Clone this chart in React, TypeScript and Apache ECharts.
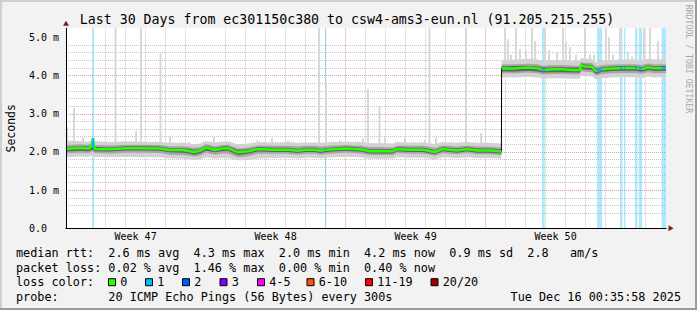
import React, { useEffect, useRef } from 'react';
import * as echarts from 'echarts';

const MONO = '"DejaVu Sans Mono", "Liberation Mono", monospace';

// ---- axes (x in days since Sun Nov 16 00:00, y in ms) ----
const X_MIN = 0.02;
const X_MAX = 30.02;
const Y_MAX = 5.24;
const dayLines = [1, 2, 3, 4, 5, 6, 8, 9, 10, 11, 12, 13, 15, 16, 17, 18, 19, 20, 22, 23, 24, 25, 26, 27, 29, 30];
const weekLines = [7, 14, 21, 28];
const weekCenters = [3.5, 10.5, 17.5, 24.5];
const weekLabels = ['Week 47', 'Week 48', 'Week 49', 'Week 50'];
const yMajor = [0, 1, 2, 3, 4, 5];
const yMinor = [0.2, 0.4, 0.6, 0.8, 1.2, 1.4, 1.6, 1.8, 2.2, 2.4, 2.6, 2.8, 3.2, 3.4, 3.6, 3.8, 4.2, 4.4, 4.6, 4.8, 5.2];

// ---- series data ----
const days = [0.02, 0.72, 1.12, 1.295, 1.37, 1.445, 2.22, 3.02, 3.87, 4.72, 5.22, 5.87, 6.22, 6.42, 6.72, 7.02, 7.47, 7.82, 8.12, 8.62, 9.12, 9.62, 10.32, 11.12, 11.62, 11.97, 12.47, 12.72, 12.97, 13.32, 13.97, 14.47, 14.72, 15.22, 15.87, 16.37, 16.57, 17.22, 17.87, 18.47, 18.87, 19.57, 20.07, 20.57, 21.22, 21.72, 21.79, 21.8, 22.47, 23.12, 23.62, 23.87, 24.32, 24.82, 25.32, 25.72, 25.77, 25.97, 26.32, 26.47, 26.57, 26.82, 27.32, 27.82, 28.12, 28.47, 28.82, 29.12, 29.47, 29.82, 30.02];
const JUMP_INDEX = 47;

const median = [2.08, 2.11, 2.09, 2.14, 2.36, 2.08, 2.07, 2.10, 2.10, 2.09, 2.05, 2.05, 2.02, 2.00, 2.03, 2.12, 2.05, 2.09, 2.10, 1.99, 2.02, 2.08, 2.06, 2.06, 2.03, 2.06, 2.06, 2.03, 2.05, 2.07, 2.09, 2.08, 2.07, 2.02, 2.02, 2.02, 2.08, 2.06, 2.06, 2.00, 2.08, 2.04, 2.08, 2.04, 2.04, 2.02, 2.02,
  4.19, 4.19, 4.21, 4.19, 4.15, 4.17, 4.17, 4.15, 4.15, 4.27, 4.24, 4.23, 4.14, 4.12, 4.17, 4.19, 4.20, 4.20, 4.20, 4.17, 4.22, 4.19, 4.20, 4.20];

const outerHi = [2.30, 2.28, 2.27, 2.30, 2.32, 2.28, 2.26, 2.28, 2.27, 2.26, 2.24, 2.24, 2.22, 2.20, 2.22, 2.29, 2.25, 2.27, 2.28, 2.20, 2.22, 2.26, 2.25, 2.26, 2.24, 2.25, 2.25, 2.24, 2.25, 2.26, 2.27, 2.26, 2.26, 2.23, 2.23, 2.22, 2.26, 2.25, 2.25, 2.21, 2.26, 2.24, 2.26, 2.24, 2.24, 2.22, 2.22,
  4.40, 4.42, 4.44, 4.42, 4.38, 4.40, 4.40, 4.39, 4.40, 4.46, 4.44, 4.43, 4.36, 4.35, 4.39, 4.41, 4.42, 4.42, 4.42, 4.40, 4.44, 4.42, 4.42, 4.42];
const outerLo = [1.86, 1.88, 1.87, 1.90, 1.92, 1.87, 1.86, 1.87, 1.86, 1.86, 1.83, 1.82, 1.80, 1.79, 1.80, 1.86, 1.82, 1.84, 1.84, 1.78, 1.79, 1.83, 1.84, 1.85, 1.83, 1.85, 1.85, 1.83, 1.84, 1.86, 1.87, 1.87, 1.86, 1.82, 1.82, 1.83, 1.86, 1.85, 1.85, 1.80, 1.86, 1.84, 1.86, 1.84, 1.84, 1.83, 1.83,
  3.96, 3.95, 3.97, 3.95, 3.92, 3.93, 3.93, 3.92, 3.92, 4.00, 3.99, 3.98, 3.91, 3.90, 3.93, 3.95, 3.96, 3.96, 3.96, 3.94, 3.98, 3.95, 3.96, 3.96];
const midHi = [2.18, 2.20, 2.19, 2.22, 2.22, 2.18, 2.17, 2.19, 2.19, 2.18, 2.15, 2.15, 2.13, 2.11, 2.13, 2.21, 2.15, 2.18, 2.19, 2.10, 2.12, 2.17, 2.16, 2.16, 2.14, 2.16, 2.16, 2.14, 2.15, 2.17, 2.18, 2.17, 2.17, 2.13, 2.13, 2.12, 2.17, 2.16, 2.16, 2.11, 2.17, 2.14, 2.17, 2.14, 2.14, 2.12, 2.12,
  4.29, 4.30, 4.31, 4.30, 4.26, 4.28, 4.28, 4.26, 4.26, 4.36, 4.34, 4.33, 4.25, 4.24, 4.28, 4.29, 4.30, 4.30, 4.30, 4.28, 4.32, 4.29, 4.30, 4.30];
const midLo = [1.96, 1.98, 1.97, 2.00, 2.02, 1.97, 1.96, 1.98, 1.98, 1.97, 1.93, 1.92, 1.90, 1.88, 1.90, 1.98, 1.93, 1.96, 1.96, 1.86, 1.89, 1.95, 1.95, 1.95, 1.93, 1.95, 1.95, 1.93, 1.94, 1.96, 1.98, 1.97, 1.96, 1.92, 1.92, 1.92, 1.97, 1.95, 1.95, 1.90, 1.97, 1.94, 1.97, 1.94, 1.94, 1.92, 1.92,
  4.06, 4.06, 4.08, 4.06, 4.03, 4.04, 4.04, 4.03, 4.03, 4.12, 4.10, 4.09, 4.02, 4.00, 4.04, 4.06, 4.07, 4.07, 4.07, 4.05, 4.09, 4.06, 4.07, 4.07];
const innerHi = [2.13, 2.15, 2.14, 2.18, 2.18, 2.13, 2.12, 2.15, 2.15, 2.14, 2.10, 2.10, 2.08, 2.06, 2.08, 2.16, 2.10, 2.14, 2.15, 2.05, 2.07, 2.13, 2.11, 2.11, 2.08, 2.11, 2.11, 2.08, 2.10, 2.12, 2.14, 2.13, 2.12, 2.07, 2.07, 2.07, 2.13, 2.11, 2.11, 2.05, 2.13, 2.09, 2.13, 2.09, 2.09, 2.07, 2.07,
  4.24, 4.25, 4.26, 4.24, 4.21, 4.22, 4.22, 4.21, 4.21, 4.32, 4.29, 4.28, 4.20, 4.18, 4.22, 4.24, 4.25, 4.25, 4.25, 4.22, 4.27, 4.24, 4.25, 4.25];
const innerLo = [2.01, 2.03, 2.02, 2.05, 2.06, 2.02, 2.01, 2.04, 2.04, 2.03, 1.99, 1.98, 1.95, 1.93, 1.96, 2.04, 1.99, 2.02, 2.03, 1.92, 1.95, 2.01, 2.00, 2.00, 1.97, 2.00, 2.00, 1.97, 1.99, 2.01, 2.03, 2.02, 2.01, 1.96, 1.96, 1.96, 2.02, 2.00, 2.00, 1.94, 2.02, 1.98, 2.02, 1.98, 1.98, 1.96, 1.96,
  4.11, 4.11, 4.13, 4.11, 4.08, 4.09, 4.09, 4.08, 4.08, 4.18, 4.16, 4.15, 4.07, 4.05, 4.10, 4.12, 4.13, 4.13, 4.13, 4.10, 4.15, 4.12, 4.13, 4.13];

// max-ping spikes: [day, from, to]
const spikes = [
  [0.07, 2.1, 2.66], [0.42, 2.1, 3.15], [0.87, 2.1, 2.38], [2.495, 2.1, 5.24], [3.52, 2.1, 2.55], [3.77, 2.1, 5.24],
  [4.745, 2.1, 4.58], [5.22, 2.1, 2.40], [6.17, 2.1, 2.27], [7.42, 2.1, 2.40], [9.595, 2.1, 2.31], [10.32, 2.1, 2.36],
  [11.12, 2.1, 2.30], [11.27, 2.1, 2.27], [12.67, 2.1, 5.24], [13.02, 2.1, 3.80], [13.72, 2.1, 2.30], [14.87, 2.1, 2.36],
  [15.12, 2.1, 3.65], [15.695, 2.1, 3.20], [15.97, 2.1, 2.38], [16.97, 2.1, 2.36], [17.97, 2.1, 2.32], [18.195, 2.1, 5.24],
  [18.52, 2.1, 2.38], [20.02, 2.1, 5.24], [20.77, 2.1, 2.49],
  [21.97, 4.2, 5.24], [22.12, 4.2, 4.95], [22.27, 4.2, 4.55], [22.52, 4.2, 5.24], [22.72, 4.2, 4.70], [23.02, 4.2, 4.65],
  [23.32, 4.2, 5.24], [23.47, 4.2, 4.90], [23.97, 4.2, 5.24], [24.17, 4.2, 4.67], [24.57, 4.2, 4.62], [24.87, 4.2, 5.24],
  [25.02, 4.2, 4.88], [25.22, 4.2, 4.75], [25.52, 4.2, 4.55], [25.97, 4.2, 5.24], [26.22, 4.2, 4.55], [26.42, 4.2, 4.55],
  [27.02, 4.2, 5.24], [27.17, 4.2, 5.00], [27.37, 4.2, 4.55], [27.72, 4.2, 5.24], [28.12, 4.2, 4.62], [28.32, 4.2, 4.50],
  [28.92, 4.2, 5.24], [29.22, 4.2, 5.24], [29.62, 4.2, 4.90], [29.97, 4.2, 4.52],
];

// loss background periods (1/20 lost): [fromDay, toDay]
const lossBars = [
  [1.32, 1.42], [12.97, 13.03], [23.82, 23.95], [26.57, 26.82], [27.72, 27.84], [27.92, 27.99],
  [28.47, 28.59], [28.66, 28.82], [29.80, 30.02],
];

const LOSS_COLORS = ['#26ff00', '#00b8ff', '#0059ff', '#7e00ff', '#ff00ff', '#ff5500', '#ff0000', '#a10000'];
const LOSS_LABELS = ['0', '1', '2', '3', '4-5', '6-10', '11-19', '20/20'];

const TITLE = 'Last 30 Days from ec301150c380 to csw4-ams3-eun.nl (91.205.215.255)';
const LEGEND_ROWS = [
  'median rtt:  2.6 ms avg  4.3 ms max  2.0 ms min  4.2 ms now  0.9 ms sd  2.8   am/s',
  'packet loss: 0.02 % avg  1.46 % max  0.00 % min  0.40 % now',
  'loss color:',
  'probe:       20 ICMP Echo Pings (56 Bytes) every 300s',
];
const DATE_TEXT = 'Tue Dec 16 00:35:58 2025';

// ---- layout ----
const ROW_Y = [253.3, 267.8, 282.2, 296.6];
const BOX_X = [108.5, 145.5, 182.5, 220, 257.5, 307, 365.5, 431];

const nb = (s: string) => s.replace(/ /g, '\u00a0');

function band(lo: number[], hi: number[], color: string) {
  return {
    type: 'custom',
    silent: true,
    data: [[X_MIN, 0]],
    renderItem: (_p: any, api: any) => {
      const top = days.map((d, i) => api.coord([d, hi[i]]));
      const bottom = days.map((d, i) => api.coord([d, lo[i]])).reverse();
      return { type: 'polygon', shape: { points: top.concat(bottom) }, style: { fill: color } };
    },
  };
}

function buildOption() {
  const gridLine = (color: string) => ({ show: true, showMinLine: false, showMaxLine: false, lineStyle: { color, width: 1, type: [1, 1] } });
  const baseX = { type: 'value', min: X_MIN, max: X_MAX, position: 'bottom', axisLabel: { show: false }, axisTick: { show: false }, axisLine: { show: false, onZero: false }, splitLine: { show: false } };
  const baseY = { type: 'value', min: 0, max: Y_MAX, position: 'left', axisLabel: { show: false }, axisTick: { show: false }, axisLine: { show: false, onZero: false }, splitLine: { show: false } };

  const points = days.map((d, i) => [d, median[i]]);
  const greenData = [...points.slice(0, JUMP_INDEX), [days[JUMP_INDEX], '-'], ...points.slice(JUMP_INDEX)];

  const graphic: any[] = [
    { type: 'rect', shape: { x: 0, y: 0, width: 697, height: 2 }, style: { fill: '#cfcfcf' }, silent: true },
    { type: 'rect', shape: { x: 0, y: 0, width: 2, height: 310 }, style: { fill: '#cfcfcf' }, silent: true },
    { type: 'rect', shape: { x: 695, y: 0, width: 2, height: 310 }, style: { fill: '#9a9a9a' }, silent: true },
    { type: 'rect', shape: { x: 0, y: 308, width: 697, height: 2 }, style: { fill: '#9a9a9a' }, silent: true },
    { type: 'text', x: 347, y: 19, silent: true, style: { text: TITLE, fontFamily: MONO, fontSize: 13.25, fill: '#000', align: 'center', verticalAlign: 'middle' } },
    { type: 'text', x: 689, y: 59, rotation: -Math.PI / 2, silent: true, style: { text: 'RRDTOOL / TOBI OETIKER', fontFamily: MONO, fontSize: 8.2, fill: '#a8a8a8', align: 'center', verticalAlign: 'middle' } },
    { type: 'text', x: 681, y: ROW_Y[3], silent: true, style: { text: DATE_TEXT, fontFamily: MONO, fontSize: 11.8, fill: '#000', align: 'right', verticalAlign: 'middle' } },
  ];
  LEGEND_ROWS.forEach((t, i) => {
    graphic.push({ type: 'text', x: 16, y: ROW_Y[i], silent: true, style: { text: nb(t), fontFamily: MONO, fontSize: 11.8, fill: '#000', align: 'left', verticalAlign: 'middle' } });
  });
  LOSS_LABELS.forEach((lab, i) => {
    graphic.push({ type: 'rect', silent: true, shape: { x: BOX_X[i], y: ROW_Y[2] - 3.5, width: 7, height: 7 }, style: { fill: LOSS_COLORS[i], stroke: '#000', lineWidth: 1 } });
    graphic.push({ type: 'text', x: BOX_X[i] + 11.7, y: ROW_Y[2], silent: true, style: { text: lab, fontFamily: MONO, fontSize: 11.8, fill: '#000', align: 'left', verticalAlign: 'middle' } });
  });

  return {
    animation: false,
    backgroundColor: '#f2f2f2',
    grid: { left: 66, right: 31, top: 28.3, bottom: 81.7, show: true, backgroundColor: '#ffffff', borderWidth: 0, containLabel: false, outerBoundsMode: 'none' },
    xAxis: [
      {
        ...baseX, z: 10,
        axisLine: { show: true, onZero: false, lineStyle: { color: '#000', width: 1 } },
        axisLabel: {
          show: true, customValues: weekCenters, margin: 3, fontFamily: MONO, fontSize: 10, color: '#000',
          formatter: (v: number) => weekLabels[weekCenters.indexOf(v)] ?? '',
        },
      },
      { ...baseX, z: 0, axisTick: { show: false, customValues: dayLines }, splitLine: gridLine('#c6c6c6') },
      { ...baseX, z: 0, axisTick: { show: false, customValues: weekLines }, splitLine: gridLine('#e49a9a') },
      { ...baseX, z: 9, axisLine: { show: true, onZero: false, lineStyle: { color: '#7f1d1d', width: 1 }, symbol: ['none', 'triangle'], symbolSize: [6, 5], symbolOffset: [0, 5] } },
    ],
    yAxis: [
      {
        ...baseY, z: 10,
        name: 'Seconds', nameLocation: 'middle', nameGap: 49, nameRotate: 90,
        nameTextStyle: { fontFamily: MONO, fontSize: 11.5, color: '#000' },
        axisLine: { show: true, onZero: false, lineStyle: { color: '#000', width: 1 } },
        axisTick: { show: false, customValues: yMajor },
        axisLabel: {
          show: true, customValues: yMajor, margin: 7, fontFamily: MONO, fontSize: 10, color: '#000',
          formatter: (v: number) => (v === 0 ? '0.0\u00a0\u00a0' : v.toFixed(1) + ' m'),
        },
      },
      { ...baseY, z: 0, axisTick: { show: false, customValues: yMinor }, splitLine: gridLine('#c6c6c6') },
      { ...baseY, z: 0, axisTick: { show: false, customValues: yMajor }, splitLine: gridLine('#e49a9a') },
      { ...baseY, z: 9, axisLine: { show: true, onZero: false, lineStyle: { color: '#7f1d1d', width: 1 }, symbol: ['none', 'triangle'], symbolSize: [6, 5], symbolOffset: [0, 5] } },
    ],
    visualMap: {
      show: false, type: 'piecewise', seriesIndex: 6, dimension: 0,
      pieces: lossBars.map(([a, b]) => ({ gte: a, lte: b, color: LOSS_COLORS[1] })),
      outOfRange: { color: LOSS_COLORS[0] },
    },
    series: [
      {
        type: 'custom', silent: true, data: lossBars, encode: { x: [0, 1] },
        renderItem: (_p: any, api: any) => {
          const a = api.coord([api.value(0), Y_MAX]);
          const b = api.coord([api.value(1), 0]);
          return { type: 'rect', shape: { x: a[0], y: a[1], width: Math.max(b[0] - a[0], 1), height: b[1] - a[1] }, style: { fill: 'rgba(0,184,255,0.32)' } };
        },
      },
      {
        type: 'custom', silent: true, data: spikes, encode: { x: 0, y: [1, 2] },
        renderItem: (_p: any, api: any) => {
          const a = api.coord([api.value(0), api.value(1)]);
          const b = api.coord([api.value(0), api.value(2)]);
          return { type: 'rect', shape: { x: a[0] - 1, y: b[1], width: 2, height: a[1] - b[1] }, style: { fill: '#d8d8d8' } };
        },
      },
      band(outerLo, outerHi, '#d2d2d2'),
      band(midLo, midHi, '#a6a6a6'),
      band(innerLo, innerHi, '#626262'),
      { type: 'line', silent: true, data: points, symbol: 'none', lineStyle: { color: '#000', width: 1 } },
      { type: 'line', silent: true, data: greenData, symbol: 'none', connectNulls: false, lineStyle: { width: 2.5 } },
    ],
    graphic,
  };
}

export default function App() {
  const ref = useRef<HTMLDivElement>(null);
  useEffect(() => {
    document.body.style.margin = '0';
    const chart = echarts.init(ref.current!, null, { renderer: 'svg' });
    chart.setOption(buildOption() as any);
    return () => chart.dispose();
  }, []);
  return <div ref={ref} style={{ width: 697, height: 310 }} />;
}
